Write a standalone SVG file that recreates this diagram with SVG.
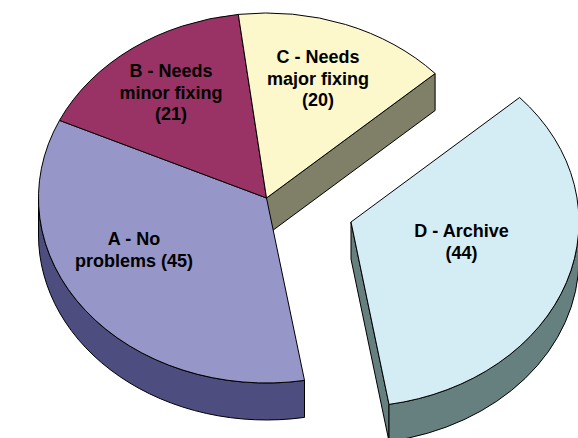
<svg xmlns="http://www.w3.org/2000/svg" width="578" height="438" viewBox="0 0 578 438">
<style>
  .edge { stroke: #000; stroke-width: 1; stroke-linejoin: round; }
  .lbl { font-family: "Liberation Sans", Arial, sans-serif; font-weight: bold; font-size: 18px; fill: #000; text-anchor: middle; }
</style>
<rect width="578" height="438" fill="#fff"/>
<g id="sliceC-side">
  <path class="edge" fill="#808068" d="M266.5,198 L435.1,73.5 L435.1,110.5 L266.5,235 Z"/>
</g>
<g id="sliceA-side">
  <path class="edge" fill="#4d4d80" d="M304.5,380.4 A228,185 0 0 1 38.5,198 L38.5,235 A228,185 0 0 0 304.5,417.4 Z"/>
</g>
<g id="sliceA">
  <path class="edge" fill="#9696c8" d="M266.5,198 L304.5,380.4 A228,185 0 0 1 59.5,120.4 Z"/>
  <text class="lbl" x="134" y="245">A - No</text>
  <text class="lbl" x="134" y="266.5">problems (45)</text>
</g>
<g id="sliceB">
  <path class="edge" fill="#993366" d="M266.5,198 L59.5,120.4 A228,185 0 0 1 238.3,14.4 Z"/>
  <text class="lbl" x="171" y="77">B - Needs</text>
  <text class="lbl" x="171" y="98.5">minor fixing</text>
  <text class="lbl" x="171" y="120">(21)</text>
</g>
<g id="sliceC">
  <path class="edge" fill="#fcf8cc" d="M266.5,198 L238.3,14.4 A228,185 0 0 1 435.1,73.5 Z"/>
  <text class="lbl" x="318" y="63">C - Needs</text>
  <text class="lbl" x="318" y="84.5">major fixing</text>
  <text class="lbl" x="318" y="106">(20)</text>
</g>
<g id="sliceD">
  <path class="edge" fill="#668080" d="M351,222 L389,404.4 L389,441.4 L351,259 Z"/>
  <path class="edge" fill="#668080" d="M579,222 A228,185 0 0 1 389,404.4 L389,441.4 A228,185 0 0 0 579,259 Z"/>
  <path class="edge" fill="#d4ecf4" d="M351,222 L519.6,97.5 A228,185 0 0 1 389,404.4 Z"/>
  <text class="lbl" x="461.5" y="237">D - Archive</text>
  <text class="lbl" x="461.5" y="259">(44)</text>
</g>
</svg>
